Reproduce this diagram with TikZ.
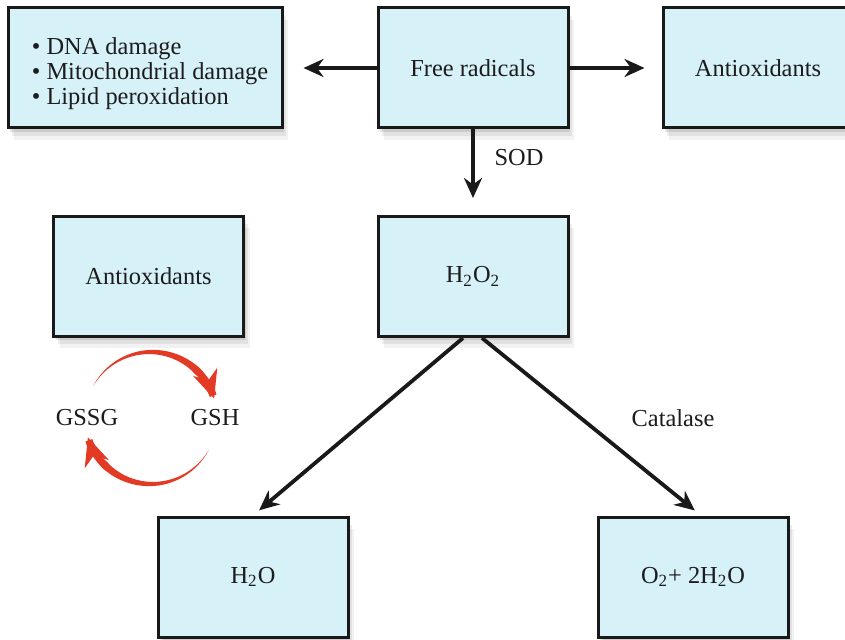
\documentclass[tikz,border=0pt]{standalone}
\usepackage{fontspec}
\setmainfont{Liberation Serif}
\usetikzlibrary{arrows.meta,shadows}

\definecolor{boxcyan}{RGB}{214,241,248}
\definecolor{cyclered}{RGB}{226,58,36}
\definecolor{ink}{RGB}{28,28,28}

\tikzset{
  boxshadow/.style={
    drop shadow={shadow xshift=1pt, shadow yshift=-2pt, opacity=0.10, fill=black},
    drop shadow={shadow xshift=2pt, shadow yshift=-4pt, opacity=0.07, fill=black},
    drop shadow={shadow xshift=3pt, shadow yshift=-6pt, opacity=0.05, fill=black}},
  box/.style={boxshadow, draw=black!90, line width=1.5pt, fill=boxcyan,
    minimum width=95pt, minimum height=60pt, text=ink,
    font=\fontsize{12.2}{12.5}\selectfont},
  lbl/.style={text=ink, font=\fontsize{12.2}{12.5}\selectfont},
  flow/.style={draw=black!90, line width=2.1pt,
    -{Stealth[length=10pt,width=9pt]}},
  diag/.style={flow, line width=1.9pt, shorten >=4pt},
  cycletip/.style={draw=cyclered, line width=3.6pt,
    -{Stealth[length=14pt,width=12.5pt]}}
}

\begin{document}
\begin{tikzpicture}[x=0.5pt, y=-0.5pt]
  \useasboundingbox (0,0) rectangle (845,640);

  % boxes
  \node[box, minimum width=137pt] (damage) at (145,68) {};
  \node[lbl, align=left] (damagelist) at (150,74)
    {\textbullet\ DNA damage\\ \textbullet\ Mitochondrial damage\\ \textbullet\ Lipid peroxidation};
  \node[box] (free) at (473,68) {Free radicals};
  \node[box] (antitop) at (758,68) {Antioxidants};
  \node[box] (antileft) at (148.5,276.5) {Antioxidants};
  \node[box] (hhoo) at (473,276.5) {H\textsubscript{2}O\textsubscript{2}};
  \node[box] (water) at (253,577) {H\textsubscript{2}O};
  \node[box] (products) at (693,577) {O\textsubscript{2}+ 2H\textsubscript{2}O};

  % labels
  \node[lbl] (sod) at (519,158) {SOD};
  \node[lbl] (catalase) at (673,418) {Catalase};
  \node[lbl] (gssg) at (87,418) {GSSG};
  \node[lbl] (gsh) at (215,418) {GSH};

  % arrows
  \draw[flow, shorten >=10pt] (free.west) -- (damage.east);
  \draw[flow, shorten >=8.5pt] (free.east) -- (antitop.west);
  \draw[flow, shorten >=8.5pt] (free.south) -- (hhoo.north);
  \draw[diag] ([xshift=-5pt]hhoo.south) -- (water.north);
  \draw[diag] ([xshift=4.5pt]hhoo.south) -- ([xshift=4pt]products.north);

  % glutathione cycle
  \coordinate (cyc) at (151,418);
  \begin{scope}[shift={(cyc)}]
    \fill[cyclered] plot[domain=-151:-44, samples=40] (\x:{66+3.7*(\x+151)/107})
      -- plot[domain=-44:-151, samples=40] (\x:{66-3.7*(\x+151)/107}) -- cycle;
    \draw[cycletip] plot[domain=-48:-17, samples=12] (\x:66);
    \fill[cyclered] plot[domain=29:136, samples=40] (\x:{66+3.7*(\x-29)/107})
      -- plot[domain=136:29, samples=40] (\x:{66-3.7*(\x-29)/107}) -- cycle;
    \draw[cycletip] plot[domain=132:163, samples=12] (\x:66);
  \end{scope}
\end{tikzpicture}
\end{document}
